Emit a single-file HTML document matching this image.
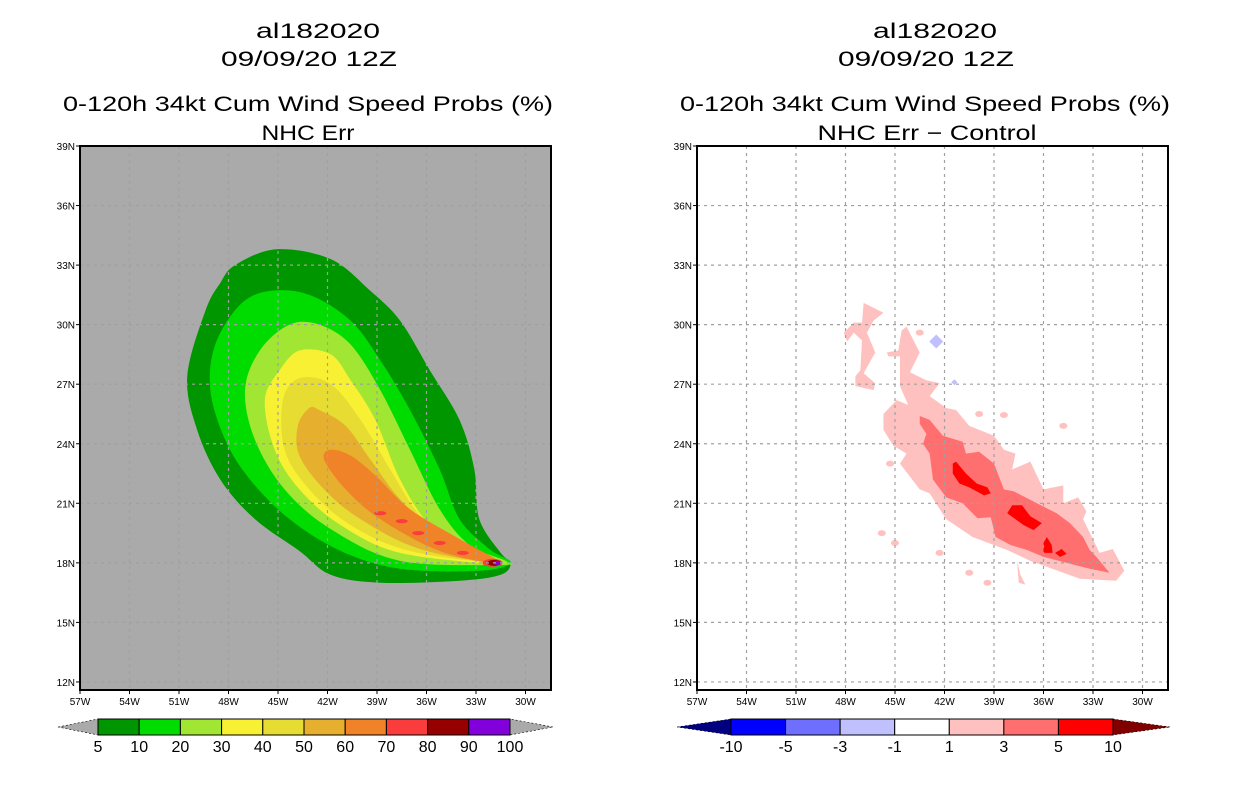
<!DOCTYPE html>
<html><head><meta charset="utf-8"><style>
html,body{margin:0;padding:0;background:#fff}
svg{display:block;font-family:"Liberation Sans",sans-serif}
</style></head><body>
<svg id="s" width="1236" height="800" viewBox="0 0 1236 800">
<g id="root"></g>
</svg>
<script>
// ---------- data ----------
const lonTicks = [57,54,51,48,45,42,39,36,33,30];
const latTicks = [39,36,33,30,27,24,21,18,15,12];
const probLevels = ["5","10","20","30","40","50","60","70","80","90","100"];
const probColors = ["#009600","#00dc00","#a0e632","#f8f032","#e6dc32","#e6af2d","#f08228","#fa3c3c","#960000","#8200dc"];
const diffLevels = ["-10","-5","-3","-1","1","3","5","10"];
const diffColors = ["#0000ff","#6f6fff","#c0c0ff","#ffffff","#ffc0c0","#ff6f6f","#ff0000"];
// contour polygons [lonW, latN]
const c5 = [[45.1,33.8],[47.6,33.0],[48.5,32.1],[49.4,30.7],[50.5,27.4],[49.9,24.7],[48.5,22.2],[46.4,20.2],[43.7,18.6],[41.8,17.4],[38.8,17.0],[34.0,17.1],[31.5,17.4],[30.9,18.0],[31.5,18.5],[32.8,20.2],[33.1,22.7],[34.0,25.2],[35.8,27.7],[37.6,30.2],[39.4,31.7],[41.8,33.3]];
const c10 = [[45.5,31.7],[47.3,31.0],[48.8,29.0],[49.1,26.7],[48.2,24.2],[46.7,22.2],[44.3,20.2],[41.2,18.6],[37.6,17.7],[32.8,17.6],[30.9,18.0],[32.2,18.7],[34.0,20.2],[35.2,22.7],[37.0,25.7],[38.8,28.2],[40.6,30.2],[43.1,31.5]];
const c20 = [[44.3,30.0],[46.1,28.7],[47.0,26.7],[46.4,24.2],[44.6,21.7],[41.8,19.7],[37.6,18.1],[31.5,17.9],[31.2,18.1],[33.4,18.9],[35.2,20.7],[37.0,23.7],[38.8,26.7],[40.6,29.0],[42.5,30.0]];
const c30 = [[43.7,28.7],[44.9,27.7],[45.8,26.2],[45.2,23.7],[43.7,21.7],[41.2,19.9],[37.6,18.5],[31.5,17.95],[33.4,18.6],[35.8,19.9],[37.6,22.2],[39.1,25.2],[40.6,27.2],[41.8,28.5]];
const c40 = [[43.7,27.3],[44.7,26.2],[44.6,23.7],[43.1,21.7],[40.6,19.9],[37.0,18.6],[31.5,18.0],[34.0,18.9],[36.4,20.4],[38.2,22.7],[40.0,25.2],[41.8,27.0]];
const c50 = [[43.1,25.8],[43.8,24.9],[43.7,23.4],[42.2,21.7],[40.0,20.2],[36.4,18.7],[31.5,18.0],[35.2,19.4],[37.6,21.2],[39.4,23.2],[40.9,24.9],[42.5,25.7]];
const c60 = [[41.8,23.7],[42.2,23.2],[40.9,21.7],[38.8,20.2],[35.2,18.6],[31.6,18.0],[34.0,19.2],[37.0,20.7],[39.1,22.4],[40.6,23.4]];
const c70blobs = [[38.8,20.5],[37.5,20.1],[36.5,19.5],[35.2,19.0],[33.8,18.5],[32.0,18.0]];
const c80blob = [[31.9,18.0]];
const c90blob = [[31.7,18.0]];
const d1main = [[44.3,29.9],[43.5,28.6],[44.1,27.6],[43.1,27.2],[42.3,27.05],[42.9,26.4],[41.9,25.8],[41.3,25.7],[40.5,24.9],[39.0,24.4],[38.4,23.7],[37.7,23.5],[37.9,22.7],[36.8,23.1],[36.0,21.7],[34.8,21.9],[34.8,21.0],[33.9,21.3],[33.4,20.6],[33.6,20.2],[32.6,18.5],[31.8,18.7],[31.1,17.6],[31.6,17.1],[33.8,17.2],[34.8,17.5],[36.8,18.1],[38.2,18.65],[40.3,19.3],[41.9,20.2],[42.9,21.5],[43.5,21.7],[44.7,23.0],[44.3,23.5],[45.1,23.9],[45.7,24.7],[45.7,25.5],[44.9,26.2],[44.2,25.95],[44.7,26.9],[44.7,28.4],[45.4,28.4],[45.5,28.6],[44.8,28.7],[44.6,29.7]];
const d1nw = [[46.9,31.1],[45.7,30.6],[46.3,30.2],[46.7,29.6],[46.2,28.6],[46.9,27.55],[46.2,27.05],[46.3,26.7],[47.4,26.9],[47.4,27.4],[47.1,27.7],[47.0,29.2],[47.5,29.6],[47.9,29.15],[48.1,29.6],[47.5,30.1],[47.0,30.1]];
const d1south = [[37.6,18.1],[37.4,17.4],[37.1,16.9],[37.5,17.0]];
const d1dots = [[34.8,24.9],[45.8,19.5],[45.0,19.0],[42.3,18.5],[40.5,17.5],[39.4,17.0],[45.3,23.0],[38.4,25.45],[39.9,25.5],[43.5,29.6]];
const d3 = [[43.5,25.4],[42.9,25.2],[42.1,24.4],[40.9,24.1],[40.7,23.5],[39.9,23.6],[39.0,23.0],[38.4,21.7],[37.8,21.6],[36.4,21.0],[35.2,20.5],[34.4,20.0],[33.6,19.3],[33.2,18.65],[32.8,18.3],[32.0,17.5],[33.2,17.7],[36.0,18.3],[37.0,18.65],[38.0,18.9],[38.9,19.3],[39.2,20.3],[40.0,20.25],[40.9,21.0],[41.9,21.3],[42.7,22.2],[42.9,23.5],[43.3,24.0],[43.1,24.5],[43.5,25.0]];
const d5a = [[41.5,23.0],[41.3,23.1],[40.7,22.5],[40.05,22.0],[39.4,21.8],[39.2,21.5],[39.6,21.4],[40.5,21.8],[41.1,22.0],[41.5,22.5]];
const d5b = [[38.2,20.5],[37.9,20.9],[37.3,20.9],[36.8,20.35],[36.1,20.0],[36.6,19.65],[37.2,19.9]];
const d5c = [[36.0,19.0],[35.8,19.3],[35.5,18.9],[35.45,18.5],[36.0,18.5]];
const d5d = [[35.3,18.5],[34.9,18.7],[34.6,18.45],[35.0,18.3]];
const dneg = [[42.5,29.15],[41.4,27.1]];

// ---------- axes ----------
const NS="http://www.w3.org/2000/svg";
const root=document.getElementById('root');
const PY0=146,PY1=690,PW=471;
function xS(lonW,ox){return ox+(57-lonW)*16.5;}
function yS(lat){return PY0+(39-lat)*19.85;}
function el(t,a,p){const e=document.createElementNS(NS,t);for(const k in a)e.setAttribute(k,a[k]);(p||root).appendChild(e);return e;}
function txt(s,x,y,size,anchor,p){const e=el('text',{x:x,y:y,'font-size':size,'text-anchor':anchor||'middle',fill:'#000'},p);e.textContent=s;return e;}
function smoothPath(pts,ox){
  const P=pts.map(p=>[xS(p[0],ox),yS(p[1])]);const n=P.length;let d='M'+P[0][0]+','+P[0][1];
  for(let i=0;i<n;i++){const p0=P[(i-1+n)%n],p1=P[i],p2=P[(i+1)%n],p3=P[(i+2)%n];
    d+=' C'+(p1[0]+(p2[0]-p0[0])/6)+','+(p1[1]+(p2[1]-p0[1])/6)+' '+(p2[0]-(p3[0]-p1[0])/6)+','+(p2[1]-(p3[1]-p1[1])/6)+' '+p2[0]+','+p2[1];}
  return d+'Z';}
function polyPath(pts,ox){return 'M'+pts.map(p=>xS(p[0],ox)+','+yS(p[1])).join(' L')+'Z';}
function wide(e,len){e.setAttribute('textLength',len);e.setAttribute('lengthAdjust','spacingAndGlyphs');}

function panel(ox,title2,t2len,bg,name){
  const g=el('g',{});  
  const d=ox-80;
  const t1=txt('al182020',318+d,38,21,'middle',g);wide(t1,124);
  const t2=txt('09/09/20 12Z',309+d,66,21,'middle',g);wide(t2,176);
  const t3=txt('0-120h 34kt Cum Wind Speed Probs (%)',308+d,111,21,'middle',g);wide(t3,490);
  const t4=txt(title2,308+d+(t2len>150?2:0),140,21,'middle',g);wide(t4,t2len);
  const r=el('rect',{x:ox,y:PY0,width:PW,height:PY1-PY0,fill:bg},g);
  return g;}

function gridFrame(ox,g){
  const cl=el('clipPath',{id:'clip'+ox},g);el('rect',{x:ox,y:PY0,width:PW,height:PY1-PY0},cl);
  const gg=el('g',{'clip-path':'url(#clip'+ox+')'},g);
  lonTicks.forEach(l=>{const x=xS(l,ox);el('line',{x1:x,y1:PY0,x2:x,y2:PY1,stroke:'#a0a0a0','stroke-width':1.2,'stroke-dasharray':'3,4'},gg);});
  latTicks.forEach(l=>{const y=yS(l);el('line',{x1:ox,y1:y,x2:ox+PW,y2:y,stroke:'#a0a0a0','stroke-width':1.2,'stroke-dasharray':'3,4'},gg);});
  const f=el('rect',{x:ox,y:PY0,width:PW,height:PY1-PY0,fill:'none',stroke:'#000','stroke-width':2},g);
  lonTicks.forEach(l=>{const x=xS(l,ox);el('line',{x1:x,y1:PY1,x2:x,y2:PY1+4,stroke:'#000'},g);
    const t=txt(l+'W',x,PY1+15,10,'middle',g);});
  latTicks.forEach(l=>{const y=yS(l);el('line',{x1:ox-4,y1:y,x2:ox,y2:y,stroke:'#000'},g);
    const t=txt(l+'N',ox-5,y+4,10,'end',g);});
}

// left panel
const L=80,R=697;
const gl=panel(L,'NHC Err',93,'#aaaaaa','left-panel-probs');
[c5,c10,c20,c30,c40,c50,c60].forEach((c,i)=>{const p=el('path',{d:smoothPath(c,L),fill:probColors[i]},gl);
  
  });
c70blobs.forEach((b,i)=>{const e=el('ellipse',{cx:xS(b[0],L),cy:yS(b[1]),rx:i==c70blobs.length-1?10:6,ry:i==c70blobs.length-1?4:2,fill:probColors[7]},gl);
  
  });
c80blob.forEach(b=>{const e=el('ellipse',{cx:xS(b[0],L),cy:yS(b[1]),rx:7,ry:3,fill:probColors[8]},gl);
  
  });
c90blob.forEach(b=>{const e=el('ellipse',{cx:xS(b[0],L),cy:yS(b[1]),rx:4,ry:2,fill:probColors[9]},gl);
  
  });
gridFrame(L,gl);

// right panel
const gr=panel(R,'NHC Err \u2212 Control',219,'#ffffff','right-panel-diff');
[d1main,d1nw,d1south].forEach(c=>{const p=el('path',{d:polyPath(c,R),fill:diffColors[4]},gr);
  
  });
d1dots.forEach(b=>{const e=el('ellipse',{cx:xS(b[0],R),cy:yS(b[1]),rx:4,ry:3,fill:diffColors[4]},gr);
  
  });
{const p=el('path',{d:polyPath(d3,R),fill:diffColors[5]},gr);
  
  }
[d5a,d5b,d5c,d5d].forEach(c=>{const p=el('path',{d:polyPath(c,R),fill:diffColors[6]},gr);
  
  });
dneg.forEach((b,i)=>{const s=i==0?7:3;const x=xS(b[0],R),y=yS(b[1]);
  const p=el('path',{d:`M${x},${y-s} L${x+s},${y} L${x},${y+s} L${x-s},${y}Z`,fill:diffColors[2]},gr);
  
  });
gridFrame(R,gr);

// colorbars
function colorbar(x0,x1,y0,y1,colors,labels,lt,rt,name,tl,tr){
  const g=el('g',{});
  const w=(x1-x0)/colors.length, ym=(y0+y1)/2;
  el('path',{d:`M${tl},${ym} L${x0},${y0} L${x0},${y1}Z`,fill:lt,stroke:'#000','stroke-width':0.6,'stroke-dasharray':'2,2'},g);
  el('path',{d:`M${tr},${ym} L${x1},${y0} L${x1},${y1}Z`,fill:rt,stroke:'#000','stroke-width':0.6,'stroke-dasharray':'2,2'},g);
  colors.forEach((c,i)=>{const r=el('rect',{x:x0+i*w,y:y0,width:w,height:y1-y0,fill:c,stroke:'#000','stroke-width':1},g);
    
    });
  labels.forEach((s,i)=>{const t=txt(s,x0+i*w,y1+17,16,'middle',g);
    
    });
}
colorbar(98,510,719,735,probColors,probLevels,'#aaaaaa','#aaaaaa','prob-colorbar',58,553);
colorbar(731,1113,719,735,diffColors,diffLevels,'#000080','#800000','diff-colorbar',677,1170);
</script>
</body></html>
